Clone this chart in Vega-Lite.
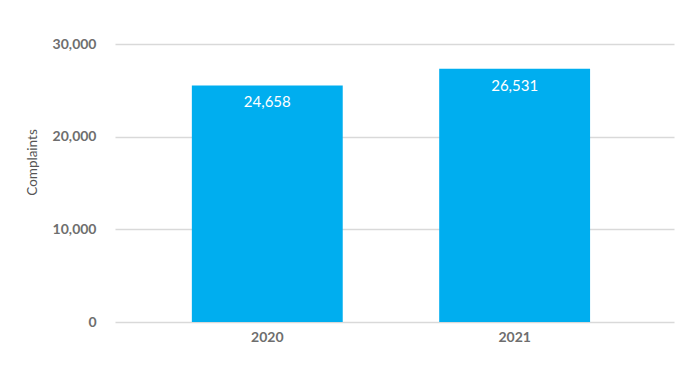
{
  "$schema": "https://vega.github.io/schema/vega-lite/v6.json",
  "autosize": "none",
  "width": 559,
  "height": 278,
  "padding": {"left": 115, "top": 44, "right": 26, "bottom": 55},
  "background": "white",
  "config": {"view": {"stroke": null}, "font": "Lato"},
  "data": {"values": [
    {"year": "2020", "complaints": 25525, "label": "24,658"},
    {"year": "2021", "complaints": 27325, "label": "26,531"}
  ]},
  "encoding": {
    "x": {"field": "year", "type": "nominal",
      "scale": {"paddingInner": 0.39, "paddingOuter": 0.325, "align": 0.478},
      "axis": {"title": null, "labelAngle": 0, "ticks": false, "domain": false, "labelPadding": 8,
        "labelFont": "Lato", "labelFontSize": 14, "labelFontWeight": "bold", "labelColor": "#6e6e6e"}},
    "y": {"field": "complaints", "type": "quantitative",
      "scale": {"domain": [0, 30000], "nice": false},
      "axis": {"title": "Complaints", "values": [0, 10000, 20000, 30000], "format": ",d",
        "ticks": false, "domain": false, "gridColor": "#d9d9d9", "gridWidth": 1.5,
        "labelPadding": 19, "labelFont": "Lato", "labelFontSize": 14, "labelFontWeight": "bold", "labelColor": "#6e6e6e",
        "titleFont": "Lato", "titleFontSize": 13.5, "titleFontWeight": "normal", "titleColor": "#555555",
        "titleX": -83, "titleY": 118, "titleAngle": -90, "titleAlign": "center", "titleBaseline": "middle"}}
  },
  "layer": [
    {"mark": {"type": "bar", "color": "#00AEEF"}},
    {"mark": {"type": "text", "color": "white", "fontSize": 15, "font": "Lato", "fontWeight": "normal", "baseline": "middle", "dy": 17},
      "encoding": {"text": {"field": "label"}}}
  ]
}
